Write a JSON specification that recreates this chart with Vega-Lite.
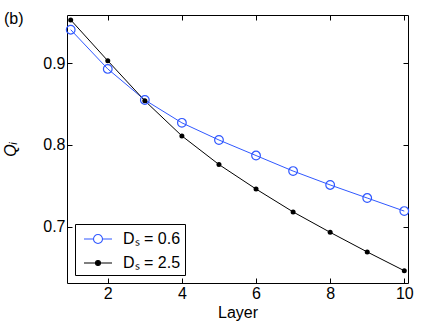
{
  "$schema": "https://vega.github.io/schema/vega-lite/v6.json",
  "width": 341,
  "height": 268,
  "autosize": "none",
  "padding": {"left": 67, "top": 15, "right": 17, "bottom": 50},
  "title": {"text": "(b)", "anchor": "start", "frame": "group", "fontSize": 16, "fontWeight": "normal", "color": "black", "dx": -63, "dy": 12, "offset": 0, "baseline": "top"},
  "config": {
    "font": "Liberation Sans",
    "view": {"stroke": "black", "strokeWidth": 1},
    "axis": {"domain": false, "grid": false, "tickColor": "black", "tickSize": -5, "labelFontSize": 16, "labelColor": "black", "titleFontSize": 16, "titleFontWeight": "normal", "titleColor": "black", "labelPadding": 7},
    "legend": {"orient": "bottom-left", "offset": 8, "strokeColor": "black", "fillColor": "white", "padding": 4, "labelFontSize": 16, "labelColor": "black", "rowPadding": 5, "labelOffset": 14, "symbolOffset": 8}
  },
  "data": {"values": [
    {"layer": 1, "series": "Dₛ = 0.6", "q": 0.941},
    {"layer": 2, "series": "Dₛ = 0.6", "q": 0.893},
    {"layer": 3, "series": "Dₛ = 0.6", "q": 0.855},
    {"layer": 4, "series": "Dₛ = 0.6", "q": 0.827},
    {"layer": 5, "series": "Dₛ = 0.6", "q": 0.806},
    {"layer": 6, "series": "Dₛ = 0.6", "q": 0.787},
    {"layer": 7, "series": "Dₛ = 0.6", "q": 0.768},
    {"layer": 8, "series": "Dₛ = 0.6", "q": 0.751},
    {"layer": 9, "series": "Dₛ = 0.6", "q": 0.735},
    {"layer": 10, "series": "Dₛ = 0.6", "q": 0.719},
    {"layer": 1, "series": "Dₛ = 2.5", "q": 0.953},
    {"layer": 2, "series": "Dₛ = 2.5", "q": 0.903},
    {"layer": 3, "series": "Dₛ = 2.5", "q": 0.854},
    {"layer": 4, "series": "Dₛ = 2.5", "q": 0.811},
    {"layer": 5, "series": "Dₛ = 2.5", "q": 0.776},
    {"layer": 6, "series": "Dₛ = 2.5", "q": 0.746},
    {"layer": 7, "series": "Dₛ = 2.5", "q": 0.718},
    {"layer": 8, "series": "Dₛ = 2.5", "q": 0.693},
    {"layer": 9, "series": "Dₛ = 2.5", "q": 0.669},
    {"layer": 10, "series": "Dₛ = 2.5", "q": 0.646}
  ]},
  "encoding": {
    "x": {"field": "layer", "type": "quantitative", "axis": null, "scale": {"domain": [0.9, 10.1], "nice": false, "zero": false}},
    "y": {"field": "q", "type": "quantitative", "axis": null, "scale": {"domain": [0.631, 0.959], "nice": false, "zero": false}}
  },
  "layer": [
    {
      "mark": {"type": "line", "strokeWidth": 1},
      "encoding": {
        "x": {"field": "layer", "type": "quantitative", "axis": {"orient": "bottom", "values": [2, 4, 6, 8, 10], "title": "Layer", "titlePadding": 3}},
        "y": {"field": "q", "type": "quantitative", "axis": {"orient": "left", "values": [0.7, 0.8, 0.9], "format": ".1f", "title": "Qᵢ", "titleFontStyle": "italic", "titlePadding": 24}},
        "color": {
          "field": "series", "type": "nominal",
          "scale": {"domain": ["Dₛ = 0.6", "Dₛ = 2.5"], "range": ["#3058ff", "black"]},
          "legend": {
            "title": null,
            "symbolType": "M-1,0H1",
            "symbolSize": 400,
            "encode": {"symbols": {"update": {
              "shape": {"signal": "datum.value == 'Dₛ = 0.6' ? 'M-1.4,0H-0.45M0.45,0H1.4M0.45,0A0.45,0.45,0,1,1,-0.45,0A0.45,0.45,0,1,1,0.45,0' : 'M-1.4,0H1.4M0.25,0A0.25,0.25,0,1,1,-0.25,0A0.25,0.25,0,1,1,0.25,0'"},
              "fill": {"signal": "datum.value == 'Dₛ = 0.6' ? 'transparent' : 'black'"},
              "strokeWidth": {"value": 1.1}
            }}}
          }
        }
      }
    },
    {
      "transform": [{"filter": "datum.series == 'Dₛ = 0.6'"}],
      "mark": {"type": "point", "shape": "circle", "filled": false, "color": "#3058ff", "size": 75, "strokeWidth": 1.2, "opacity": 1},
      "encoding": {
        "x": {"field": "layer", "type": "quantitative", "axis": {"orient": "top", "values": [2, 4, 6, 8, 10], "labels": false, "title": null}},
        "y": {"field": "q", "type": "quantitative", "axis": {"orient": "right", "values": [0.7, 0.8, 0.9], "labels": false, "title": null}}
      }
    },
    {
      "transform": [{"filter": "datum.series == 'Dₛ = 2.5'"}],
      "mark": {"type": "point", "shape": "circle", "filled": true, "color": "black", "size": 25, "opacity": 1}
    }
  ]
}
